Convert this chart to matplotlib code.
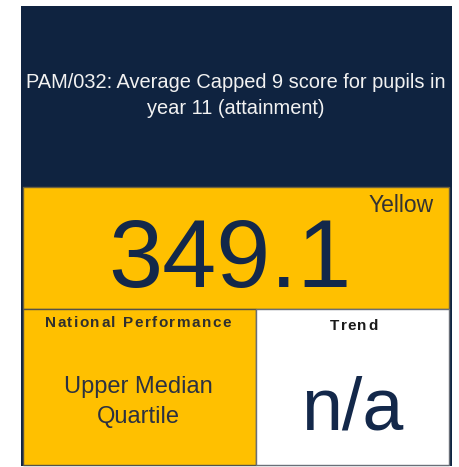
import matplotlib
matplotlib.use("Agg")
import matplotlib.pyplot as plt
from matplotlib.patches import Rectangle
from matplotlib.font_manager import FontProperties

plt.rcParams['font.family'] = ['Liberation Sans', 'DejaVu Sans']

title_lines = ["PAM/032: Average Capped 9 score for pupils in", "year 11 (attainment)"]
value = "349.1"
rating = "Yellow"
national_label = "National Performance"
national_value = ["Upper Median", "Quartile"]
trend_label = "Trend"
trend_value = "n/a"

NAVY = "#0f2340"
YELLOW = "#ffc000"

fig = plt.figure(figsize=(4.59, 4.67), dpi=100)
ax = fig.add_axes([0, 0, 1, 1])
ax.set_xlim(0, 459)
ax.set_ylim(467, 0)
ax.axis('off')
renderer = fig.canvas.get_renderer()


def spaced_text(cx, y, s, spacing, **kw):
    """Centered text with extra letter spacing (pixels); 1 data unit = 1 px."""
    fp = FontProperties(family=['Liberation Sans', 'DejaVu Sans'],
                        size=kw.get('fontsize', 10), weight=kw.get('fontweight', 'normal'))
    def w(t):
        if not t:
            return 0.0
        return renderer.get_text_width_height_descent(t, fp, ismath=False)[0]
    total = w(s) + spacing * (len(s) - 1)
    x0 = cx - total / 2
    for i, ch in enumerate(s):
        if ch == ' ':
            continue
        ax.text(x0 + w(s[:i]) + spacing * i, y, ch, ha='left', va='baseline', **kw)


# outer navy frame
ax.add_patch(Rectangle((21, 6), 431, 460, facecolor=NAVY, edgecolor='none'))
# yellow value band
ax.add_patch(Rectangle((22.5, 187), 426.5, 122, facecolor=YELLOW, edgecolor='#6b6040', linewidth=1.0))
# bottom-left national performance
ax.add_patch(Rectangle((22.5, 309), 233, 156, facecolor=YELLOW, edgecolor='#55524a', linewidth=1.0))
# bottom-right trend
ax.add_patch(Rectangle((255.5, 309), 193, 156, facecolor='white', edgecolor='#6a6f78', linewidth=1.0))

ax.text(236, 88, title_lines[0], ha='center', va='baseline', color='#f2f2f2', fontsize=14.4)
ax.text(236, 114, title_lines[1], ha='center', va='baseline', color='#f2f2f2', fontsize=14.4)

ax.text(230, 287, value, ha='center', va='baseline', color='#13284a', fontsize=70)
ax.text(434, 212, rating, ha='right', va='baseline', color='#333333', fontsize=16.5)

spaced_text(138, 327, national_label, 1.5, color='#2f2f2f', fontsize=11, fontweight='bold')
ax.text(138, 393, national_value[0], ha='center', va='baseline', color='#2b3142', fontsize=17)
ax.text(138, 423, national_value[1], ha='center', va='baseline', color='#2b3142', fontsize=17)

spaced_text(354, 330, trend_label, 1.5, color='#1a1a1a', fontsize=11, fontweight='bold')
ax.text(352, 430, trend_value, ha='center', va='baseline', color='#13284a', fontsize=53)

fig.savefig("out.png", dpi=100)
